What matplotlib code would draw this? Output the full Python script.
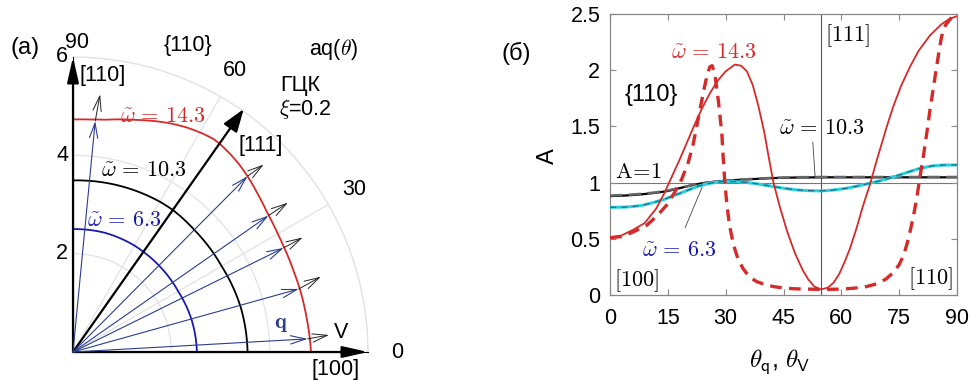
import numpy as np
import matplotlib
matplotlib.use('Agg')
import matplotlib.pyplot as plt

plt.rcParams['font.family'] = ['Liberation Sans', 'DejaVu Sans']
plt.rcParams['mathtext.fontset'] = 'cm'

# ---------------- data: panel (a) isofrequency curves aq(theta) ----------------
theta_red = [0, 8.7, 14.5, 19.7, 26.2, 30.2, 35.6, 40.8, 45.3, 48, 51.4, 54.8, 56.5, 59, 63.1, 67.7,
             75.4, 82, 86, 90]
r_red = [4.84, 4.8, 4.79, 4.78, 4.79, 4.81, 4.86, 4.95, 5.04, 5.09, 5.14, 5.18, 5.19, 5.17, 5.12, 5.04,
         4.88, 4.77, 4.74, 4.73]
theta_blk = [0, 15, 30, 45, 54.7, 60, 75, 90]
r_blk = [3.55, 3.53, 3.49, 3.5, 3.53, 3.53, 3.51, 3.49]
theta_blu = [0, 15, 30, 45, 54.7, 60, 75, 90]
r_blu = [2.52, 2.5, 2.47, 2.48, 2.49, 2.5, 2.51, 2.5]
# wave vectors q (tip on red curve) and group velocity V tips
q_theta = [84.5, 45.2, 34.9, 26.3, 15.6, 3.2]
q_r = [4.72, 5.04, 4.85, 4.78, 4.77, 4.78]
v_theta = [84.0, 44.5, 34.8, 26.5, 16.9, 3.8]
v_r = [5.27, 5.44, 5.32, 5.22, 5.27, 5.22]
dir111_theta = 54.9
dir111_r = 6.04
r_ticks = [2, 4, 6]
theta_ticks = [0, 30, 60, 90]

# ---------------- data: panel (б) amplitude A(theta) ----------------
th_rs = [0, 3, 6, 9, 12, 14, 16, 18, 20, 22, 24, 26, 28, 30, 32.4, 34, 35.5, 37, 38.5, 40, 41.2, 42.4,
         44, 46, 48, 50, 51.5, 53, 54.7, 56.5, 58, 59.5, 60.8, 62.2, 64, 65.5, 67.4, 69.2, 70.5, 71.8,
         73.5, 75.5, 77.8, 80, 83, 86, 88.2, 90]
A_rs = [0.51, 0.53, 0.58, 0.64, 0.77, 0.9, 1.05, 1.2, 1.36, 1.52, 1.67, 1.8, 1.91, 1.99, 2.05, 2.04, 1.99, 1.87, 1.68, 1.45, 1.22, 1.0,
        0.79, 0.56, 0.37, 0.22, 0.135, 0.075, 0.05, 0.065, 0.11, 0.19, 0.29, 0.41, 0.6, 0.78, 0.98, 1.2, 1.35, 1.5,
        1.68, 1.86, 2.03, 2.17, 2.31, 2.41, 2.46, 2.48]
th_rd = [0, 3, 6, 9.5, 12.1, 14.7, 16.9, 18.6, 20.3, 21.5, 22.5, 23.5, 24.5, 25.3, 25.9, 26.5, 27.2, 28.1, 29.0, 29.4,
         29.8, 30.4, 31.0, 32.0, 33.2, 34.6, 36.2, 38.0, 40, 42.4, 45, 48, 54.7, 60, 63, 66, 69.2, 71.5, 73.5, 75,
         76.1, 77, 77.8, 78.7, 79.5, 80.4, 81.3, 82.2, 83.0, 83.9, 84.7, 85.4, 86.0, 87, 88.6, 90]
A_rd = [0.51, 0.52, 0.56, 0.62, 0.7, 0.8, 0.92, 1.03, 1.18, 1.33, 1.5, 1.68, 1.85, 1.97, 2.03, 2.04, 1.96, 1.73, 1.44, 1.2,
        0.99, 0.78, 0.62, 0.45, 0.32, 0.23, 0.16, 0.12, 0.095, 0.075, 0.062, 0.055, 0.05, 0.052, 0.06, 0.07, 0.1, 0.14, 0.2, 0.27,
        0.35, 0.45, 0.56, 0.7, 0.85, 1.05, 1.24, 1.45, 1.65, 1.85, 2.03, 2.18, 2.3, 2.4, 2.47, 2.48]
th_k = [0, 4, 8, 12, 15, 18, 21, 24, 27, 30, 34, 38, 42, 48, 54.7, 60, 70, 80, 90]
A_ks = [0.88, 0.885, 0.895, 0.91, 0.925, 0.95, 0.975, 0.995, 1.007, 1.017, 1.026, 1.033, 1.04, 1.045, 1.047,
        1.047, 1.047, 1.047, 1.047]
A_kd = [0.885, 0.89, 0.9, 0.913, 0.93, 0.952, 0.975, 0.995, 1.007, 1.017, 1.027, 1.035, 1.042, 1.048, 1.05,
        1.05, 1.05, 1.05, 1.05]
th_c = [0, 4, 8, 11, 14, 17, 20, 23, 26, 29, 32, 35, 38, 41.5, 45, 48.4, 51, 54.7, 58, 61.4, 64, 67.4,
        70.5, 73.5, 77, 80.4, 83.5, 86.4, 90]
A_c = [0.78, 0.782, 0.795, 0.82, 0.85, 0.89, 0.93, 0.97, 0.995, 1.008, 1.01, 1.003, 0.99, 0.97, 0.95, 0.935,
       0.929, 0.926, 0.934, 0.95, 0.968, 0.994, 1.02, 1.05, 1.09, 1.127, 1.148, 1.156, 1.157]
x_ticks = [0, 15, 30, 45, 60, 75, 90]
y_ticks = [0, 0.5, 1, 1.5, 2, 2.5]
y_ticklabels = ['0', '0.5', '1', '1.5', '2', '2.5']
theta_111 = 54.74

RED = '#d42a2a'
NAVY = '#2b3d8f'
BLUE = '#1a1aaa'
FS = 15.5

fig = plt.figure(figsize=(9.72, 3.86), dpi=100)

# ================= panel (a) =================
axp = fig.add_axes([73/972, 34/386, 295/972, 295/386], projection='polar')
axp.set_thetamin(0)
axp.set_thetamax(90)
axp.set_rlim(0, 6)
axp.set_rticks(r_ticks)
axp.set_yticklabels([])
axp.set_xticks(np.deg2rad(theta_ticks))
axp.set_xticklabels([])
axp.grid(True, color='#e2e2e2', lw=0.9)
axp.spines['polar'].set_color('#e2e2e2')
axp.spines['polar'].set_linewidth(0.9)
axp.spines['start'].set_visible(False)
axp.spines['end'].set_visible(False)
axp.tick_params(length=0)

d2r = np.deg2rad
for th_arr, r_arr, col in ((theta_blu, r_blu, BLUE), (theta_blk, r_blk, 'k'), (theta_red, r_red, RED)):
    ln, = axp.plot(d2r(np.array(th_arr)), r_arr, color=col, lw=1.3)
    ln.get_path()._interpolation_steps = 40   # draw segments as arcs in polar space

# axes arrows
for th in (0, 90):
    axp.annotate('', xy=(d2r(th), 6.0), xytext=(0, 0), annotation_clip=False,
                 arrowprops=dict(arrowstyle='-|>,head_length=1.1,head_width=0.25', color='k',
                                 lw=1.6, mutation_scale=14, shrinkA=0, shrinkB=0))
axp.annotate('', xy=(d2r(dir111_theta), dir111_r), xytext=(0, 0), annotation_clip=False,
             arrowprops=dict(arrowstyle='-|>,head_length=1.0,head_width=0.35', color='k',
                             lw=1.6, mutation_scale=14, shrinkA=0, shrinkB=0))
for tq, rq, tv, rv in zip(q_theta, q_r, v_theta, v_r):
    axp.annotate('', xy=(d2r(tv), rv), xytext=(d2r(tq), rq), annotation_clip=False,
                 arrowprops=dict(arrowstyle='->,head_length=0.9,head_width=0.25', color='#222222',
                                 lw=0.7, mutation_scale=12, shrinkA=0, shrinkB=0))
    axp.annotate('', xy=(d2r(tq), rq), xytext=(0, 0), annotation_clip=False,
                 arrowprops=dict(arrowstyle='->,head_length=0.9,head_width=0.25', color=NAVY,
                                 lw=0.8, mutation_scale=12, shrinkA=0, shrinkB=0))

# tick labels
for r in r_ticks:
    axp.annotate(str(r), xy=(d2r(90), r), xytext=(-5, 0), textcoords='offset pixels',
                 ha='right', va='center', fontsize=FS, annotation_clip=False)
for th in theta_ticks:
    if th == 90:
        axp.annotate(str(th), xy=(d2r(90), 6.0), xytext=(4, 15), textcoords='offset pixels',
                     ha='center', va='center', fontsize=FS, annotation_clip=False)
    else:
        axp.text(d2r(th), 6.6, str(th), ha='center', va='center', fontsize=FS, clip_on=False)

def ptext(px, py, s, **kw):
    fig.text(px/972, 1 - py/386, s, ha='center', va='center', **kw)

ptext(25, 48, '(a)', fontsize=17)
ptext(188, 46, '{110}', fontsize=FS)
ptext(333, 49, r'aq($\theta$)', fontsize=FS)
ptext(300, 86, 'ГЦК', fontsize=FS)
ptext(305, 109, r'$\xi$=0.2', fontsize=FS)
ptext(261, 145, '[111]', fontsize=FS)
ptext(103, 76, '[110]', fontsize=FS)
ptext(336, 369, '[100]', fontsize=FS)
ptext(163, 116, r'$\tilde{\omega}\,=\,14.3$', fontsize=16, color=RED)
ptext(144, 171, r'$\tilde{\omega}\,=\,10.3$', fontsize=16, color='k')
ptext(124, 220, r'$\tilde{\omega}\,=\,6.3$', fontsize=16, color=BLUE)
ptext(281, 324, r'$\mathbf{q}$', fontsize=16, color=NAVY)
ptext(341, 332, 'V', fontsize=FS)

# ================= panel (б) =================
axb = fig.add_axes([610/972, 91/386, 347/972, 281/386])
axb.set_xlim(0, 90)
axb.set_ylim(0, 2.5)
axb.axhline(1, color='#777777', lw=0.8, zorder=1)
axb.axvline(theta_111, color='#555555', lw=0.8, zorder=1)
axb.plot(th_k, A_ks, color='k', lw=1.6, zorder=3)
axb.plot(th_k, A_kd, color='#666666', lw=1.8, ls=(0, (5, 2.5)), zorder=3)
axb.plot(th_c, A_c, color='#2ad0dc', lw=2.2, zorder=4)
axb.plot(th_c, A_c, color='#1b6f8a', lw=0.9, ls=(0, (5, 4)), zorder=4)
axb.plot(th_rs, A_rs, color=RED, lw=1.3, zorder=5)
axb.plot(th_rd, A_rd, color=RED, lw=2.4, ls=(0, (3.5, 2.2)), zorder=5)

axb.set_xticks(x_ticks)
axb.set_yticks(y_ticks)
axb.set_yticklabels(y_ticklabels)
axb.tick_params(direction='in', top=True, right=True, length=4, width=0.8, color='#888888',
                labelsize=FS)
axb.tick_params(axis='x', pad=9)
axb.tick_params(axis='y', pad=7)
for s in axb.spines.values():
    s.set_color('#888888')
    s.set_linewidth(0.9)

axb.text(27.0, 2.16, r'$\tilde{\omega}\,=\,14.3$', color=RED, fontsize=16, ha='center', va='center')
axb.text(10.6, 1.78, '{110}', fontsize=17, ha='center', va='center')
axb.text(61.7, 2.31, r'$\mathrm{[111]}$', fontsize=16, ha='center', va='center')
axb.text(55.0, 1.48, r'$\tilde{\omega}\,=\,10.3$', fontsize=16, ha='center', va='center')
axb.text(7.3, 1.09, r'$\mathrm{A\!=\!1}$', fontsize=16, ha='center', va='center')
axb.text(17.9, 0.40, r'$\tilde{\omega}\,=\,6.3$', color=BLUE, fontsize=16, ha='center', va='center')
axb.text(7.0, 0.13, r'$\mathrm{[100]}$', fontsize=16, ha='center', va='center')
axb.text(83.0, 0.15, r'$\mathrm{[110]}$', fontsize=16, ha='center', va='center')
axb.plot([52.6, 53.2], [1.36, 1.05], color='#444444', lw=0.6)
axb.plot([19.5, 23.9], [0.60, 0.96], color='#444444', lw=0.6)

ptext(516, 53, '(б)', fontsize=17)
ptext(548, 156, 'A', fontsize=17, rotation=90)
ptext(780, 362, r'$\theta_{\mathsf{q}}$, $\theta_{\mathsf{V}}$', fontsize=18)

fig.savefig('out.png', dpi=100)
